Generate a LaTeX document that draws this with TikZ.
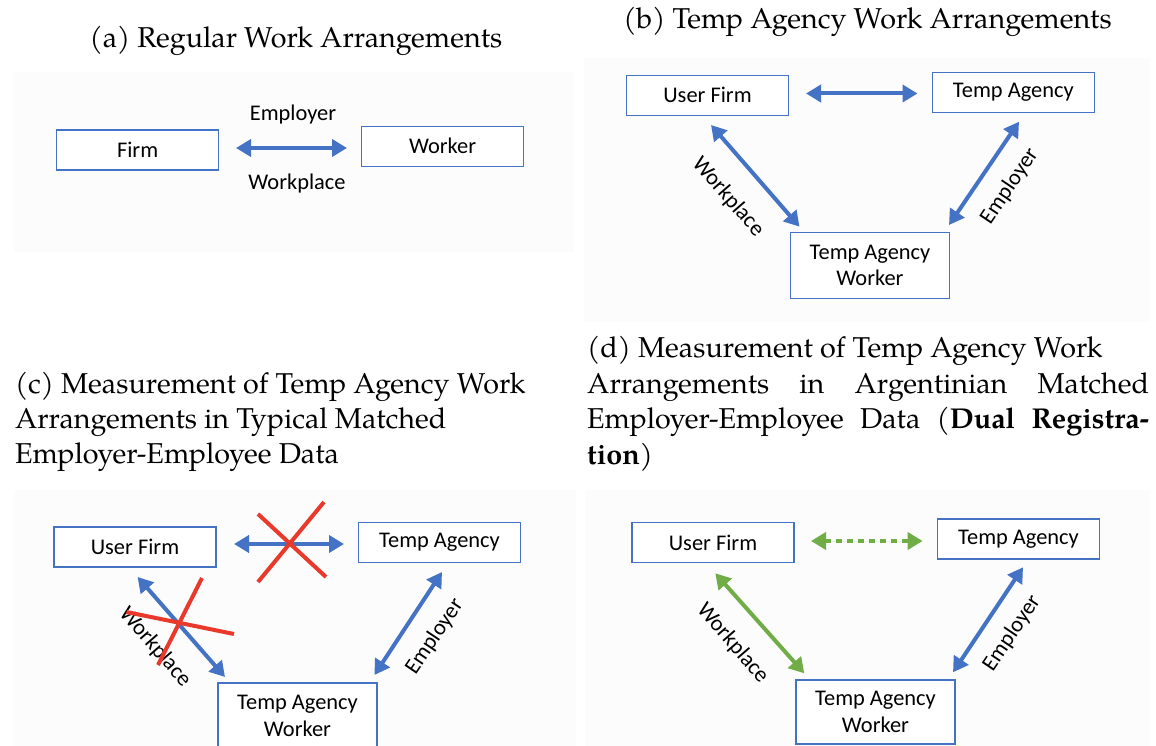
\documentclass[tikz,border=0pt]{standalone}
\usepackage{fontspec}
\newfontfamily\boxfont{Carlito}
\newfontfamily\capfont{texgyrepagella}[Extension=.otf, UprightFont=*-regular, BoldFont=*-bold]
\usetikzlibrary{arrows.meta,calc}
\definecolor{offblue}{HTML}{4472C4}
\definecolor{offgreen}{HTML}{70AD47}
\definecolor{xred}{HTML}{E8392A}
\definecolor{panelbg}{HTML}{FCFCFC}
\begin{document}
\begin{tikzpicture}[x=1pt,y=-1pt,
  panelfill/.style={fill=panelbg, draw=none},
  wbox/.style={draw=offblue, line width=1.1pt, fill=white, inner sep=0pt, align=center,
    minimum width=162pt, minimum height=40pt,
    font=\boxfont\fontsize{22.4}{26.5}\selectfont},
  lbl/.style={inner sep=0pt, font=\boxfont\fontsize{22.4}{26.5}\selectfont},
  captxt/.style={inner sep=0pt, font=\capfont\fontsize{28.7}{36}\selectfont},
  dbl/.style={line width=4pt, {Triangle[length=15pt,width=17pt]}-{Triangle[length=15pt,width=17pt]}},
  bluearr/.style={dbl, draw=offblue, fill=offblue},
  greenarr/.style={dbl, draw=offgreen, fill=offgreen},
  dotarr/.style={greenarr, dash pattern=on 6pt off 5pt},
  redx/.style={draw=xred, line width=4pt}
]
\clip (0,0) rectangle (1156,746);
\fill[white] (0,0) rectangle (1156,746);
% panel backgrounds
\fill[panelfill] (14,72) rectangle (574,252);
\fill[panelfill] (584,58) rectangle (1150,322);
\fill[panelfill] (14,490) rectangle (576,746);
\fill[panelfill] (585,490) rectangle (1150,746);

% ---------- captions ----------
\node[captxt, anchor=base] (capa) at (296,48) {(a) Regular Work Arrangements};
\node[captxt, anchor=base] (capb) at (867.5,29) {(b) Temp Agency Work Arrangements};
\node[captxt, anchor=base west] (capc1) at (14.8,393) {(c) Measurement of Temp Agency Work};
\node[captxt, anchor=base west] (capc2) at (14.8,428.5) {Arrangements in Typical Matched};
\node[captxt, anchor=base west] (capc3) at (14.8,463.5) {Employer-Employee Data};
\node[captxt, anchor=base west] (capd1) at (587,357) {(d) Measurement of Temp Agency Work};
\node[captxt, anchor=base west] (capd2) at (587,393) {\makebox[562pt][s]{Arrangements in Argentinian Matched}};
\node[captxt, anchor=base west] (capd3) at (587,428.5) {\makebox[562pt][s]{Employer-Employee Data (\textbf{Dual Registra-}}};
\node[captxt, anchor=base west] (capd4) at (587,464) {\textbf{tion})};

% ---------- panel (a) ----------
\node[wbox] (afirm) at (137.6,150) {Firm};
\node[wbox] (awork) at (442.6,146.3) {Worker};
\coordinate (a1) at (236,148);
\coordinate (a2) at (347,148);
\draw[bluearr] (a1) -- (a2);
\node[lbl] (aemp) at (293,115) {Employer};
\node[lbl] (awp) at (297,183.5) {Workplace};

% ---------- panel (b) ----------
\node[wbox] (buf) at (707.5,95.3) {User Firm};
\node[wbox] (bta) at (1013.3,92.3) {Temp Agency};
\node[wbox, minimum width=159pt, minimum height=66pt] (btaw) at (870,265.5) {Temp Agency\\Worker};
\coordinate (bh1) at (806,93.5);
\coordinate (bh2) at (917.5,93.5);
\draw[bluearr] (bh1) -- (bh2);
\coordinate (bw1) at (711,125);
\coordinate (bw2) at (799.5,226.7);
\draw[bluearr] (bw1) -- (bw2);
\coordinate (be1) at (1019,121.7);
\coordinate (be2) at (949,225);
\draw[bluearr] (be1) -- (be2);
\node[lbl, rotate=-49] (bwl) at (728,197) {Workplace};
\node[lbl, rotate=56] (bel) at (1009.6,186) {Employer};

% ---------- panel (c) ----------
\node[wbox] (cuf) at (135,547) {User Firm};
\node[wbox] (cta) at (439.5,542.5) {Temp Agency};
\node[wbox, minimum width=159pt, minimum height=66pt] (ctaw) at (297.5,716) {Temp Agency\\Worker};
\coordinate (ch1) at (234,544);
\coordinate (ch2) at (344,544);
\draw[bluearr] (ch1) -- (ch2);
\coordinate (cw1) at (137.6,577);
\coordinate (cw2) at (225,677);
\draw[bluearr] (cw1) -- (cw2);
\coordinate (ce1) at (442,572);
\coordinate (ce2) at (374.4,675);
\draw[bluearr] (ce1) -- (ce2);
\node[lbl, rotate=-49] (cwl) at (155,647) {Workplace};
\node[lbl, rotate=56] (cel) at (434.7,636.7) {Employer};
% red crosses
\coordinate (xa1) at (258,514); \coordinate (xa2) at (326,577);
\coordinate (xb1) at (324,502); \coordinate (xb2) at (258,582);
\draw[redx] (xa1) -- (xa2);
\draw[redx] (xb1) -- (xb2);
\coordinate (xc1) at (126.5,612); \coordinate (xc2) at (234,634);
\coordinate (xd1) at (202,578); \coordinate (xd2) at (158,665);
\draw[redx] (xc1) -- (xc2);
\draw[redx] (xd1) -- (xd2);

% ---------- panel (d) ----------
\node[wbox] (duf) at (713,542.7) {User Firm};
\node[wbox] (dta) at (1018.5,539) {Temp Agency};
\node[wbox, minimum width=159pt, minimum height=64pt] (dtaw) at (875.5,712) {Temp Agency\\Worker};
\coordinate (dh1) at (811,541);
\coordinate (dh2) at (922.6,541);
\draw[dotarr] (dh1) -- (dh2);
\coordinate (dw1) at (715.3,573.3);
\coordinate (dw2) at (804.3,673.3);
\draw[greenarr] (dw1) -- (dw2);
\coordinate (de1) at (1023,567.3);
\coordinate (de2) at (953,672.3);
\draw[bluearr] (de1) -- (de2);
\node[lbl, rotate=-49] (dwl) at (732.6,643.3) {Workplace};
\node[lbl, rotate=56] (del) at (1012,633.3) {Employer};
\end{tikzpicture}
\end{document}
